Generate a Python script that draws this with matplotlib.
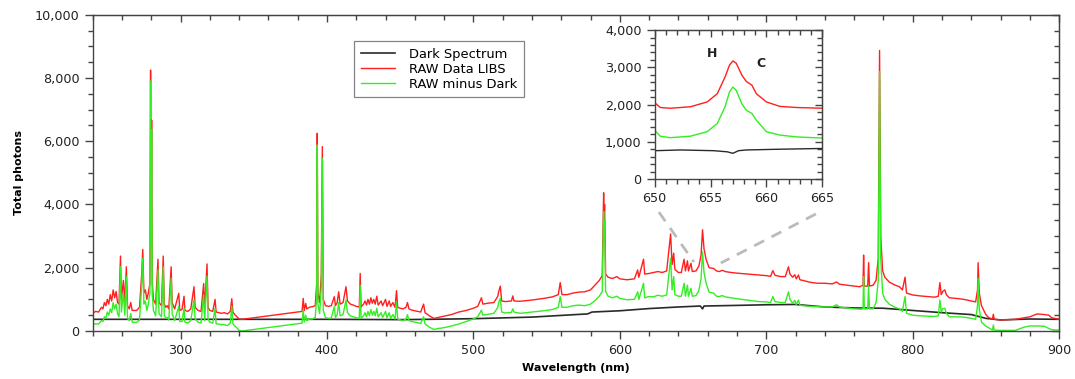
#!/usr/bin/python3

import matplotlib
matplotlib.use("Agg")
import matplotlib.pyplot as plt
from matplotlib.ticker import MultipleLocator, FuncFormatter

# ---- main spectrum: wavelength (nm), raw LIBS counts, raw minus dark ----
wl = [240, 242, 244, 246, 247, 248, 249, 250, 251, 252, 253, 254, 255, 256, 257, 258,
      259, 259.6, 261, 262, 263, 263.8, 265, 266, 267, 270, 272, 273.5, 274.2, 275,
      276, 277, 278, 279.1, 279.55, 279.9, 280.27, 280.7, 281.5, 283, 284.6, 285.3,
      287, 288.2, 288.9, 290, 291, 292, 293.6, 294.3, 296, 298.8, 299.5, 301, 302.4,
      303, 305, 307, 309.2, 310, 312, 314, 315.8, 316.5, 318.1, 318.8, 320, 322,
      323.6, 324.3, 326, 328, 330, 332, 334, 335, 335.8, 337, 338.5, 340, 342,
      383, 383.8, 384.5, 385.5, 386.2, 388, 390, 392, 393.0, 393.37, 393.8, 395,
      396.15, 396.85, 397.5, 399, 401, 403, 405, 405.8, 407, 408, 409, 411, 413,
      414, 416, 418, 420, 422.1, 422.7, 423.3, 425, 426, 427, 428, 429, 430, 431,
      432, 433, 434, 435, 437, 438, 440, 441, 442.5, 443.5, 445, 446.5, 447.5,
      448.3, 450, 452, 454, 455, 456, 458, 460, 462, 464, 466, 467, 470, 473, 476,
      480, 485, 490, 495, 500, 503, 505.5, 506.5, 510, 514, 516.7, 517.3, 518.4,
      519.3, 522, 526, 526.9, 527.7, 532, 540, 548, 554, 558, 559.3, 560.5, 564,
      568, 572, 576, 580, 583, 586, 588, 588.95, 589.3, 589.6, 590.3, 592, 595,
      598, 600, 605, 610, 612.2, 613, 616.2, 617, 620, 623, 626, 629, 632, 634.7,
      635.7, 636.8, 637.6, 640, 642, 643.9, 644.8, 646.2, 646.9, 648.6, 649.5, 652,
      654, 655.5, 656.5, 657.5, 659, 661, 664, 666, 668, 670, 672, 676, 680, 685,
      690, 695, 700, 703, 704.5, 706, 710, 713, 715.2, 716.2, 718, 719.5, 720.5,
      722, 723, 725, 730, 735, 740, 745, 748, 750, 755, 760, 764, 766.1, 766.5,
      767.0, 769.3, 769.9, 770.5, 773, 775, 776.5, 777.4, 778.2, 779.5, 781, 784,
      788, 791, 793, 794.8, 795.8, 800, 805, 810, 815, 817.5, 818.6, 819.5, 820.5,
      822, 823, 825, 830, 835, 840, 843, 844.3, 844.7, 845.5, 847, 850, 852, 854.5,
      855.1, 855.7, 860, 870, 876, 880, 885, 890, 893, 895, 900]

raw = [560, 620, 600, 750, 700, 900, 800, 1000, 850, 1150, 950, 1300, 1050, 1250, 900, 850,
       2370, 1000, 1600, 900, 2030, 800, 700, 900, 650, 650, 750, 1800, 2580, 1200,
       1300, 1000, 1200, 1500, 8250, 3000, 6670, 1500, 1000, 850, 2270, 900,
       800, 2370, 850, 750, 800, 700, 2030, 900, 700, 1190, 650, 680, 1100,
       650, 620, 700, 1400, 750, 650, 620, 1500, 700, 2120, 750, 650, 620,
       1000, 600, 580, 560, 580, 540, 620, 1020, 600, 520, 450, 380, 370,
       620, 1030, 650, 870, 700, 750, 770, 800, 1500, 6250, 1200, 900,
       1800, 5830, 1000, 800, 780, 800, 1085, 800, 900, 1240, 850, 900, 1400,
       950, 850, 820, 780, 760, 1820, 760, 850, 950, 820, 1000, 850, 1050, 880,
       1000, 850, 1100, 820, 950, 800, 1000, 780, 950, 780, 900, 750, 1275,
       750, 720, 700, 750, 900, 700, 660, 640, 620, 600, 850, 580, 480, 400, 430,
       470, 520, 600, 650, 720, 780, 1050, 850, 880, 900, 1100, 1250, 1420,
       950, 930, 950, 1110, 950, 940, 980, 1030, 1080, 1150, 1530, 1150, 1150,
       1200, 1230, 1240, 1300, 1450, 1600, 1750, 4370, 3500, 4000, 1800, 1700, 1660,
       1720, 1650, 1620, 1650, 1930, 1700, 2270, 1800, 1820, 1850, 1880, 1850, 1900, 3070,
       2100, 2460, 1950, 1850, 1850, 2270, 1900, 2220, 1900, 2140, 1880, 1900,
       2050, 2400, 3200, 2600, 2250, 2000, 1980, 1900, 1880, 1920, 1880, 1850, 1830, 1810,
       1790, 1770, 1750, 1730, 1910, 1760, 1720, 1720, 2030, 1800, 1700, 1780, 1650,
       1770, 1620, 1600, 1540, 1510, 1510, 1490, 1550, 1480, 1450, 1420, 1400, 1450, 2400,
       1420, 1420, 2160, 1420, 1450, 1600, 2300, 8870, 3000, 1900, 1700, 1550,
       1450, 1400, 1300, 1700, 1200, 1140, 1110, 1090, 1070, 1100, 1530, 1150, 1250,
       1300, 1150, 1050, 1030, 1000, 950, 920, 1300, 2160, 1200, 800, 520, 420, 380,
       530, 370, 350, 370, 420, 450, 540, 520, 500, 420, 370]

raw_minus_dark = [190, 230, 220, 330, 300, 450, 400, 600, 500, 700, 580, 900, 700, 850, 550, 450,
                  2030, 600, 1200, 500, 1720, 400, 330, 550, 280, 270, 350, 1450, 2300, 850,
                  950, 650, 850, 1200, 7900, 2700, 6360, 1150, 650, 480, 1930, 550,
                  450, 2030, 500, 400, 430, 350, 1670, 550, 330, 780, 300, 300, 720,
                  280, 250, 330, 980, 380, 280, 250, 1150, 330, 1740, 380, 280, 250,
                  720, 230, 220, 200, 200, 170, 250, 790, 230, 160, 100, 20, 0,
                  250, 660, 280, 500, 330, 380, 380, 430, 1100, 5880, 850, 550,
                  1400, 5460, 650, 430, 400, 420, 770, 430, 520, 900, 480, 520, 980,
                  580, 480, 450, 420, 400, 1450, 400, 480, 580, 450, 620, 480, 680, 500,
                  620, 480, 720, 450, 580, 430, 620, 420, 580, 400, 520, 380, 930,
                  380, 350, 330, 380, 520, 330, 300, 280, 260, 240, 450, 220, 120, 50, 80,
                  105, 160, 220, 300, 380, 450, 660, 500, 530, 560, 750, 900, 1030,
                  600, 570, 590, 700, 600, 560, 600, 640, 680, 750, 1090, 750, 750,
                  800, 820, 800, 850, 960, 1100, 1250, 3770, 3000, 3500, 1250, 1100, 1050,
                  1100, 1030, 990, 1000, 1240, 1000, 1510, 1050, 1090, 1080, 1130, 1100, 1140, 2300,
                  1300, 1720, 1150, 1100, 1100, 1510, 1100, 1450, 1100, 1350, 1100, 1120,
                  1280, 1650, 2500, 1850, 1500, 1230, 1200, 1100, 1090, 1120, 1080, 1050, 1020, 990,
                  960, 930, 920, 900, 1090, 930, 900, 900, 1240, 1000, 880, 970, 840,
                  980, 820, 800, 780, 770, 760, 760, 830, 760, 730, 700, 690, 700, 1720,
                  700, 700, 1420, 700, 700, 900, 1600, 8200, 2300, 1200, 1000, 850,
                  750, 700, 620, 1090, 560, 500, 480, 470, 460, 480, 980, 600, 700,
                  720, 560, 450, 450, 440, 400, 370, 800, 1670, 700, 280, 150, 100, 30,
                  190, 30, 20, 20, 120, 160, 160, 150, 80, 40, 30]

# ---- dark spectrum ----
wl_dark = [240, 280, 340, 400, 450, 470, 500, 540, 570, 578, 581, 600, 620, 640, 655,
           656.5, 657.5, 680, 700, 720, 740, 760, 780, 800, 820, 840, 850, 860, 880, 900]
dark = [370, 370, 370, 370, 360, 370, 390, 440, 520, 540, 600, 640, 710, 760, 790,
        700, 790, 810, 830, 840, 760, 730, 720, 650, 580, 520, 400, 350, 380, 370]

# ---- inset: 650-665 nm zoom on H-alpha / C ----
wl_in = [650, 650.5, 651.4, 653.2, 654.7, 655.6, 656.3, 656.7, 657.0, 657.3, 657.8,
         658.2, 658.7, 659.1, 660.0, 661.2, 662.7, 665]
raw_in = [2050, 1920, 1900, 1940, 2070, 2290, 2740, 3060, 3170, 3110, 2790,
          2620, 2520, 2290, 2070, 1950, 1920, 1900]
diff_in = [1310, 1150, 1110, 1150, 1270, 1490, 1940, 2340, 2470, 2380, 2020,
           1850, 1760, 1580, 1270, 1180, 1130, 1100]
wl_dark_in = [650, 652.3, 655.3, 656.5, 657.0, 657.5, 658.2, 661.2, 665]
dark_in = [760, 780, 760, 730, 690, 760, 780, 800, 820]

RED = "#ff1f1f"
GREEN = "#33ee22"
DARK = "#2a2a2a"
AXC = "#444444"

thousands = FuncFormatter(lambda v, p: f"{v:,.0f}")


def style_axes(ax, xmaj, xmin, ymaj, ymin, labelsize):
    ax.xaxis.set_major_locator(MultipleLocator(xmaj))
    ax.xaxis.set_minor_locator(MultipleLocator(xmin))
    ax.yaxis.set_major_locator(MultipleLocator(ymaj))
    ax.yaxis.set_minor_locator(MultipleLocator(ymin))
    ax.yaxis.set_major_formatter(thousands)
    ax.tick_params(which="both", direction="out", color=AXC, labelcolor="#222222",
                   labelsize=labelsize, top=False, right=False)
    ax.tick_params(which="major", length=6, width=1)
    ax.tick_params(which="minor", length=3.5, width=1)
    for s in ax.spines.values():
        s.set_color(AXC)
        s.set_linewidth(1)
    # inward ticks on top and right
    top = ax.secondary_xaxis("top")
    top.xaxis.set_major_locator(MultipleLocator(xmaj))
    top.xaxis.set_minor_locator(MultipleLocator(xmin))
    top.tick_params(which="both", direction="in", color=AXC, labeltop=False)
    top.tick_params(which="major", length=5, width=1)
    top.tick_params(which="minor", length=3.5, width=1)
    right = ax.secondary_yaxis("right")
    right.yaxis.set_major_locator(MultipleLocator(ymaj))
    right.yaxis.set_minor_locator(MultipleLocator(ymin))
    right.tick_params(which="both", direction="in", color=AXC, labelright=False)
    right.tick_params(which="major", length=5, width=1)
    right.tick_params(which="minor", length=3.5, width=1)
    for sa in (top, right):
        for s in sa.spines.values():
            s.set_color(AXC)


fig = plt.figure(figsize=(10.75, 3.79), dpi=100)
ax = fig.add_axes([0.0862, 0.1266, 0.899, 0.8346])

ax.plot(wl_dark, dark, color=DARK, lw=1.2, label="Dark Spectrum")
ax.plot(wl, raw, color=RED, lw=1.0, label="RAW Data LIBS")
ax.plot(wl, raw_minus_dark, color=GREEN, lw=1.0, label="RAW minus Dark")
ax.set_xlim(240, 900)
ax.set_ylim(0, 10000)
style_axes(ax, 100, 20, 2000, 500, 9.2)
ax.set_xlabel("Wavelength (nm)", fontsize=8, fontweight="bold", labelpad=4)
ax.set_ylabel("Total photons", fontsize=8, fontweight="bold", labelpad=8)

leg = ax.legend(loc="upper left", bbox_to_anchor=(0.2705, 0.916), fontsize=9.4,
                frameon=True, fancybox=False, edgecolor="#666666", handlelength=2.6,
                borderpad=0.5, labelspacing=0.15, handletextpad=1.1, borderaxespad=0)
leg.get_frame().set_linewidth(0.9)

# dashed guide lines towards the inset
ax.plot([626.7, 650.6], [3760, 2180], color="#bbbbbb", lw=2, ls=(0, (4, 3)))
ax.plot([733.9, 669.0], [3700, 2150], color="#bbbbbb", lw=2, ls=(0, (4, 3)))

# inset
axi = fig.add_axes([0.609, 0.5277, 0.1559, 0.393])
axi.plot(wl_dark_in, dark_in, color=DARK, lw=1.0)
axi.plot(wl_in, raw_in, color=RED, lw=1.0)
axi.plot(wl_in, diff_in, color=GREEN, lw=1.0)
axi.set_xlim(650, 665)
axi.set_ylim(0, 4000)
style_axes(axi, 5, 1, 1000, 200, 9.2)
axi.text(655.1, 3380, "H", fontsize=9, fontweight="bold", color="#222222",
         ha="center", va="center")
axi.text(659.5, 3110, "C", fontsize=9, fontweight="bold", color="#222222",
         ha="center", va="center")

fig.savefig("out.png", dpi=100)
